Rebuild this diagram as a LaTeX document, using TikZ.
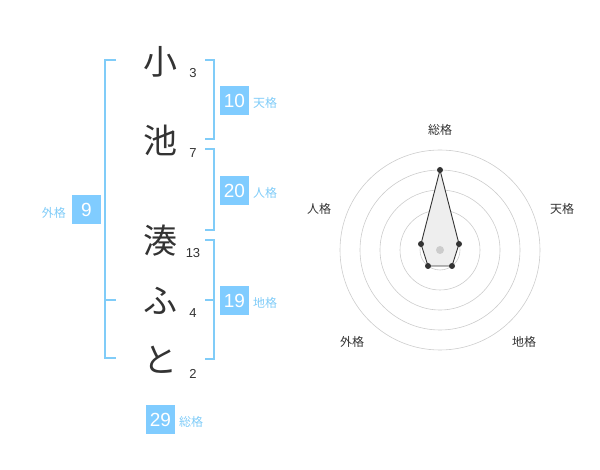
\documentclass[tikz,border=0pt]{standalone}
\usepackage{fontspec}
\usetikzlibrary{calc}
\setmainfont{Liberation Sans}
\newfontfamily\jp{Noto Sans CJK JP}
\definecolor{lb}{HTML}{80CCF8}
\definecolor{boxc}{HTML}{80CCFF}
\definecolor{dk}{HTML}{333333}
\definecolor{gridc}{HTML}{CCCCCC}
\definecolor{polyf}{HTML}{EEEEEE}
\begin{document}
\begin{tikzpicture}[x=1pt,y=-1pt,
  kanji/.style={font=\jp\fontsize{34}{34}\selectfont,text=dk,inner sep=0pt},
  strokes/.style={font=\fontsize{13}{13}\selectfont,text=dk,inner sep=0pt},
  valbox/.style={fill=boxc,text=white,minimum width=29pt,minimum height=29pt,inner sep=0pt,font=\fontsize{19}{19}\selectfont},
  kaku/.style={font=\jp\fontsize{12}{12}\selectfont,text=lb,inner sep=0pt,anchor=west},
  brk/.style={draw=lb,line width=2pt},
  axlab/.style={font=\jp\fontsize{12}{12}\selectfont,text=dk,inner sep=0pt},
  ring/.style={draw=gridc,line width=0.6pt},
  dot/.style={circle,fill=dk,inner sep=0pt,minimum size=6pt}]
\useasboundingbox (0,0) rectangle (600,470);
% name characters
\node[kanji] (c1) at (160,62) {小};
\node[kanji] (c2) at (160,140) {池};
\node[kanji] (c3) at (160,241) {湊};
\node[kanji] (c4) at (160,301) {ふ};
\node[kanji] (c5) at (160,360) {と};
\node[strokes] (s1) at (193,73) {3};
\node[strokes] (s2) at (193,153) {7};
\node[strokes] (s3) at (193,253) {13};
\node[strokes] (s4) at (193,313) {4};
\node[strokes] (s5) at (193,374) {2};
% brackets
\draw[brk] (116,60) -- (105,60) -- (105,358) -- (116,358);
\draw[brk] (105,300) -- (116,300);
\draw[brk] (205,60) -- (214,60) -- (214,139) -- (205,139);
\draw[brk] (205,149) -- (214,149) -- (214,230) -- (205,230);
\draw[brk] (205,240) -- (214,240) -- (214,359) -- (205,359);
\draw[brk] (205,300) -- (214,300);
% value boxes
\node[valbox] (ten) at (234.5,100.5) {10};
\node[kaku] (tenl) at (253,103) {天格};
\node[valbox] (jin) at (234.5,190.5) {20};
\node[kaku] (jinl) at (253,193) {人格};
\node[valbox] (chi) at (234.5,300.5) {19};
\node[kaku] (chil) at (253,303) {地格};
\node[valbox] (gai) at (86.5,210) {9};
\node[kaku,anchor=east] (gail) at (66,213) {外格};
\node[valbox] (sou) at (160.5,419.5) {29};
\node[kaku] (soul) at (179,422) {総格};
% radar
\coordinate (O) at (440,250);
\foreach \r in {20,40,60,80,100} \draw[ring] (O) circle[radius=\r];
\coordinate (pS) at (440,170);
\coordinate (pT) at (459,244);
\coordinate (pC) at (452,266);
\coordinate (pG) at (428,266);
\coordinate (pJ) at (421,244);
\draw[dk,fill=polyf,line width=0.9pt] (pS) -- (pT) -- (pC) -- (pG) -- (pJ) -- cycle;
\fill[gridc] (O) circle[radius=4];
\foreach \p in {pS,pT,pC,pG,pJ} \node[dot] at (\p) {};
\node[axlab] (aS) at (440,130) {総格};
\node[axlab] (aT) at (562,209) {天格};
\node[axlab] (aC) at (524,342) {地格};
\node[axlab] (aG) at (352,342) {外格};
\node[axlab] (aJ) at (319,209) {人格};
\end{tikzpicture}
\end{document}
